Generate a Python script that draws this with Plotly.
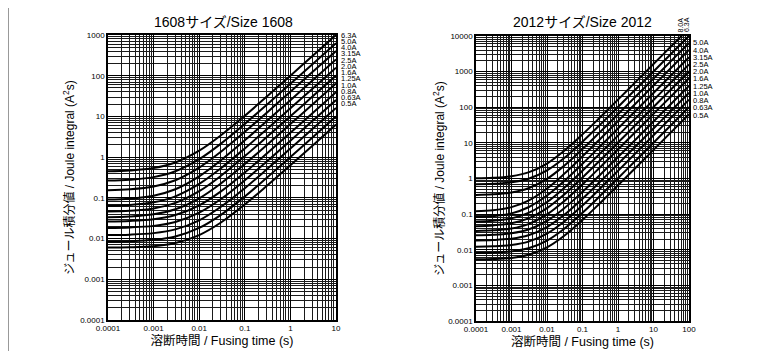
import plotly.graph_objects as go

# ---------------- data ----------------
t_1608 = [1e-4, 3e-4, 1e-3, 3e-3, 1e-2, 3e-2, 0.1, 0.3, 1, 3, 10]
labels_1608 = ["6.3A", "5.0A", "4.0A", "3.15A", "2.5A", "2.0A", "1.6A", "1.25A", "1.0A", "0.8A", "0.63A", "0.5A"]
i2t_1608 = [
    [0.45, 0.47, 0.54, 0.74, 1.44, 3.44, 10.4, 30.4, 100, 300, 1000],
    [0.266, 0.279, 0.323, 0.449, 0.89, 2.15, 6.56, 19.2, 63.3, 189, 630],
    [0.154, 0.162, 0.19, 0.271, 0.553, 1.36, 4.18, 12.2, 40.5, 121, 403],
    [0.0905, 0.0955, 0.113, 0.163, 0.338, 0.838, 2.59, 7.59, 25.1, 75.1, 250],
    [0.0636, 0.0667, 0.0778, 0.109, 0.22, 0.535, 1.64, 4.79, 15.8, 47.3, 158],
    [0.046, 0.048, 0.0551, 0.0753, 0.146, 0.348, 1.06, 3.08, 10.1, 30.3, 101],
    [0.0336, 0.0349, 0.0395, 0.0524, 0.0975, 0.227, 0.678, 1.97, 6.48, 19.4, 64.5],
    [0.0264, 0.0272, 0.0299, 0.0378, 0.0654, 0.144, 0.42, 1.21, 3.97, 11.8, 39.4],
    [0.0183, 0.0188, 0.0205, 0.0256, 0.0432, 0.0936, 0.27, 0.774, 2.54, 7.58, 25.2],
    [0.0122, 0.0125, 0.0136, 0.0168, 0.0281, 0.0603, 0.173, 0.495, 1.62, 4.84, 16.1],
    [0.0084, 0.0086, 0.0093, 0.0113, 0.0183, 0.0383, 0.108, 0.308, 1.01, 3.01, 10.0],
    [0.0060, 0.0061, 0.0065, 0.0078, 0.0122, 0.0248, 0.069, 0.195, 0.636, 1.89, 6.3],
]

t_2012 = [1e-4, 3e-4, 1e-3, 3e-3, 1e-2, 3e-2, 0.1, 0.3, 1, 3, 10, 30, 100]
labels_2012_top = ["8.0A", "6.3A"]
labels_2012 = ["5.0A", "4.0A", "3.15A", "2.5A", "2.0A", "1.6A", "1.25A", "1.0A", "0.8A", "0.63A", "0.5A"]
i2t_2012 = [
    [1.016, 1.05, 1.16, 1.49, 2.63, 5.89, 17.3, 49.9, 164, 490, 1630, 4890, 16300],
    [0.69, 0.71, 0.78, 0.98, 1.69, 3.71, 10.8, 31, 102, 304, 1010, 3030, 10100],
    [0.346, 0.359, 0.404, 0.531, 0.975, 2.25, 6.69, 19.4, 63.8, 191, 635, 1905, 6350],
    [0.12, 0.128, 0.157, 0.238, 0.522, 1.33, 4.18, 12.3, 40.7, 122, 406, 1218, 4060],
    [0.0825, 0.0876, 0.105, 0.156, 0.332, 0.836, 2.6, 7.64, 25.3, 75.7, 252, 756, 2520],
    [0.0616, 0.0648, 0.0759, 0.108, 0.219, 0.537, 1.65, 4.83, 16, 47.8, 159, 477, 1590],
    [0.046, 0.0481, 0.0552, 0.0756, 0.147, 0.351, 1.07, 3.11, 10.2, 30.6, 102, 306, 1020],
    [0.0337, 0.035, 0.0395, 0.0525, 0.098, 0.228, 0.683, 1.98, 6.53, 19.5, 65, 195, 650],
    [0.0254, 0.0262, 0.029, 0.0369, 0.0647, 0.144, 0.422, 1.22, 4.0, 11.9, 39.7, 119, 397],
    [0.0183, 0.0188, 0.0205, 0.0256, 0.0434, 0.0942, 0.272, 0.78, 2.56, 7.64, 25.4, 76.2, 254],
    [0.0122, 0.0125, 0.0136, 0.0169, 0.0283, 0.0609, 0.175, 0.501, 1.64, 4.9, 16.3, 48.9, 163],
    [0.0081, 0.0083, 0.009, 0.011, 0.0181, 0.0383, 0.109, 0.311, 1.02, 3.04, 10.1, 30.3, 101],
    [0.0054, 0.0055, 0.0059, 0.0072, 0.0117, 0.0244, 0.0688, 0.196, 0.64, 1.91, 6.36, 19.1, 63.5],
]

x_ticks_1608 = ["0.0001", "0.001", "0.01", "0.1", "1", "10"]
y_ticks_1608 = ["0.0001", "0.001", "0.01", "0.1", "1", "10", "100", "1000"]
x_ticks_2012 = ["0.0001", "0.001", "0.01", "0.1", "1", "10", "100"]
y_ticks_2012 = ["0.0001", "0.001", "0.01", "0.1", "1", "10", "100", "1000", "10000"]

title_1608 = "1608サイズ/Size 1608"
title_2012 = "2012サイズ/Size 2012"
y_title = "ジュール積分値 / Joule integral (A<sup>2</sup>s)"
x_title = "溶断時間 / Fusing time (s)"

# ---------------- figure ----------------
W, H = 770, 351
FONT = "Liberation Sans, Arial, Helvetica, 'Noto Sans CJK JP', sans-serif"

fig = go.Figure()

for ys in i2t_1608:
    fig.add_trace(go.Scatter(x=t_1608, y=ys, mode="lines", xaxis="x", yaxis="y",
                             line=dict(color="black", width=2, shape="spline", smoothing=1.0),
                             showlegend=False, hoverinfo="skip"))
for ys in i2t_2012:
    fig.add_trace(go.Scatter(x=t_2012, y=ys, mode="lines", xaxis="x2", yaxis="y2",
                             line=dict(color="black", width=2, shape="spline", smoothing=1.0),
                             showlegend=False, hoverinfo="skip"))


def vals(labels):
    return [float(s) for s in labels]


def minors(lo, hi):
    out = []
    for d in range(lo, hi):
        for k in range(2, 10):
            out.append(k * 10.0 ** d)
    return out


def px_x(p):
    return p / W


def px_y(p):
    return 1 - p / H


def axis(rng, domain, tickvals, ticktext, minor_vals, anchor, title, tsize, standoff):
    return dict(
        type="log", range=rng, domain=domain, anchor=anchor, automargin=False,
        tickmode="array", tickvals=tickvals, ticktext=ticktext,
        ticks="", ticklen=0,
        title=dict(text=title, font=dict(size=tsize, color="black", family=FONT), standoff=standoff),
        showgrid=True, gridcolor="black", gridwidth=1,
        minor=dict(tickmode="array", tickvals=minor_vals, showgrid=True,
                   gridcolor="#1a1a1a", gridwidth=0.8, ticks=""),
        showline=True, linecolor="black", linewidth=1.5, mirror=True,
        tickfont=dict(size=8, color="black", family=FONT),
        zeroline=False, fixedrange=True,
    )


fig.update_layout(
    template="none",
    autosize=True,
    margin=dict(l=0, r=0, t=0, b=0, pad=0, autoexpand=False),
    paper_bgcolor="white", plot_bgcolor="white",
    font=dict(family=FONT, color="black"),
    xaxis=axis([-4, 1], [px_x(108), px_x(336)], vals(x_ticks_1608), x_ticks_1608, minors(-4, 1), "y",
               x_title, 12.5, 4),
    yaxis=axis([-4, 3], [px_y(320), px_y(35)], vals(y_ticks_1608), y_ticks_1608, minors(-4, 3), "x",
               y_title, 12, 3),
    xaxis2=axis([-4, 2], [px_x(476), px_x(689)], vals(x_ticks_2012), x_ticks_2012, minors(-4, 2), "y2",
                x_title, 12.5, 4),
    yaxis2=axis([-4, 4], [px_y(321), px_y(36)], vals(y_ticks_2012), y_ticks_2012, minors(-4, 4), "x2",
                y_title, 12, 1),
)

ann = []
# panel titles
ann.append(dict(text=title_1608, x=px_x(223), y=px_y(22), font=dict(size=14)))
ann.append(dict(text=title_2012, x=px_x(582), y=px_y(22), font=dict(size=14)))
# curve labels
for i, lab in enumerate(labels_1608):
    ann.append(dict(text=lab, x=px_x(340), y=px_y(35 + i * 6.27), xanchor="left", font=dict(size=7.5)))
for i, lab in enumerate(labels_2012):
    ann.append(dict(text=lab, x=px_x(692), y=px_y(43 + i * 7.2), xanchor="left", font=dict(size=7.5)))
for lab, cx in zip(labels_2012_top, [679.5, 686]):
    ann.append(dict(text=lab, x=px_x(cx), y=px_y(25), textangle=-90, font=dict(size=7)))

for a in ann:
    a.setdefault("xref", "paper")
    a.setdefault("yref", "paper")
    a.setdefault("showarrow", False)
    a.setdefault("xanchor", "center")
    a.setdefault("yanchor", "middle")
    a["borderpad"] = 0
    a["font"] = dict(family=FONT, color="black", **a.get("font", {}))
fig.update_layout(annotations=ann)

# outer frame (cropped at the bottom)
frame = [
    dict(x0=8, y0=7, x1=765, y1=7, color="black"),
    dict(x0=8, y0=7, x1=8, y1=351, color="#777777"),
    dict(x0=765, y0=7, x1=765, y1=351, color="#777777"),
]
fig.update_layout(shapes=[
    dict(type="line", xref="paper", yref="paper",
         x0=px_x(f["x0"]), y0=px_y(f["y0"]), x1=px_x(f["x1"]), y1=px_y(f["y1"]),
         line=dict(color=f["color"], width=1.5))
    for f in frame
])

# the page body has a default 8px margin; pull the 770x351 plot div back to the corner
fig.write_html("out.html", default_width="770px",
               default_height="351px; margin:-8px 0 0 -8px")
